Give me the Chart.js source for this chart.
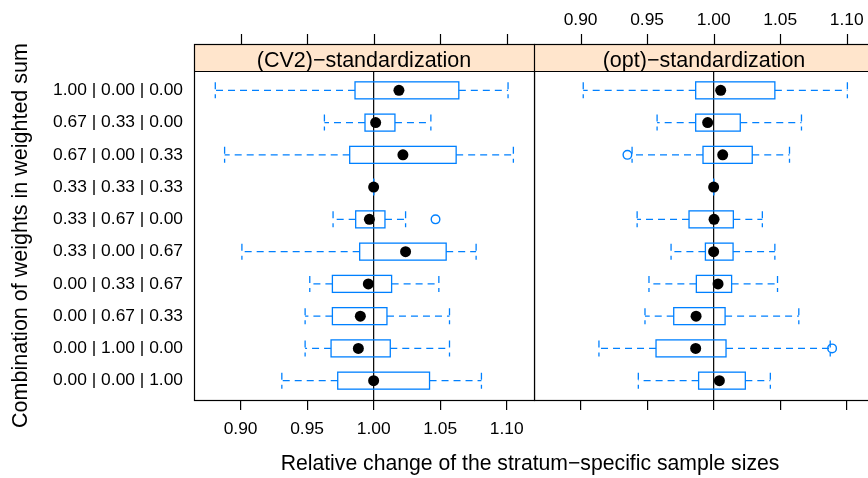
<!DOCTYPE html>
<html>
<head>
<meta charset="utf-8">
<script src="https://cdn.jsdelivr.net/npm/chart.js@4.4.1/dist/chart.umd.min.js"></script>
<style>
  html, body { margin: 0; padding: 0; width: 868px; height: 478px; overflow: hidden; background: #fff; }
  canvas { position: absolute; top: 0; }
  #xtitle {
    position: absolute; left: 530px; top: 452px; transform: translateX(-50%);
    font: 21.2px 'Liberation Sans', Arial, sans-serif; line-height: 1; white-space: nowrap; color: #000;
  }
</style>
</head>
<body>
<canvas id="left" width="536" height="478" style="left:0"></canvas>
<canvas id="right" width="346" height="478" style="left:534px"></canvas>
<div id="xtitle">Relative change of the stratum−specific sample sizes</div>
<script>
const categories = [
  '1.00 | 0.00 | 0.00', '0.67 | 0.33 | 0.00', '0.67 | 0.00 | 0.33', '0.33 | 0.33 | 0.33',
  '0.33 | 0.67 | 0.00', '0.33 | 0.00 | 0.67', '0.00 | 0.33 | 0.67', '0.00 | 0.67 | 0.33',
  '0.00 | 1.00 | 0.00', '0.00 | 0.00 | 1.00'
];
const panelTitles = ['(CV2)−standardization', '(opt)−standardization'];
const xTicks = [0.90, 0.95, 1.00, 1.05, 1.10];
const xMin = 0.865, xMax = 1.1205;

// (CV2) panel: whisker ends, quartiles, median, outliers
const cv2Lo  = [0.881, 0.963, 0.888, 1.000, 0.9695, 0.901, 0.952, 0.9485, 0.9485, 0.931];
const cv2Q1  = [0.986, 0.9935, 0.982, 1.000, 0.9865, 0.9895, 0.969, 0.969, 0.968, 0.973];
const cv2Med = [1.019, 1.0015, 1.022, 1.000, 0.9968, 1.024, 0.996, 0.990, 0.9885, 1.000];
const cv2Q3  = [1.064, 1.016, 1.062, 1.000, 1.0085, 1.0545, 1.0135, 1.010, 1.0125, 1.042];
const cv2Hi  = [1.101, 1.043, 1.105, 1.000, 1.024, 1.077, 1.049, 1.057, 1.057, 1.081];
const cv2OutRow = [5];
const cv2OutVal = [1.0465];

// (opt) panel
const optLo  = [0.902, 0.9575, 0.9387, 1.000, 0.9425, 0.968, 0.9514, 0.9484, 0.9138, 0.9434];
const optQ1  = [0.9865, 0.9865, 0.992, 1.000, 0.9815, 0.9938, 0.987, 0.970, 0.9567, 0.9887];
const optMed = [1.0053, 0.9955, 1.0068, 1.000, 1.0003, 1.000, 1.0033, 0.9868, 0.9865, 1.0043];
const optQ3  = [1.046, 1.020, 1.029, 1.000, 1.0148, 1.0146, 1.0135, 1.0086, 1.0093, 1.0238];
const optHi  = [1.1005, 1.066, 1.057, 1.000, 1.0366, 1.046, 1.048, 1.064, 1.0876, 1.0426];
const optOutRow = [3, 9];
const optOutVal = [0.9352, 1.089];

const BLUE = '#0080ff';
const FONT = "'Liberation Sans', Arial, sans-serif";
Chart.defaults.font.family = FONT;
Chart.defaults.color = '#000';

function bwPlugin(st, title) {
  return {
    id: 'bw',
    beforeDatasetsDraw(chart) {
      const {ctx, chartArea: a, scales: {x, y}} = chart;
      ctx.save();
      ctx.lineWidth = 1.2;
      ctx.strokeStyle = '#000';
      const xr = x.getPixelForValue(1);
      ctx.beginPath(); ctx.moveTo(xr, a.top); ctx.lineTo(xr, a.bottom); ctx.stroke();
      ctx.strokeStyle = BLUE;
      ctx.lineWidth = 1.3;
      st.lo.forEach((lo, i) => {
        const yc = y.getPixelForValue(i + 1);
        const p = [lo, st.q1[i], st.q3[i], st.hi[i]].map(v => x.getPixelForValue(v));
        ctx.setLineDash([7, 5]);
        ctx.beginPath();
        ctx.moveTo(p[1], yc); ctx.lineTo(p[0], yc);
        ctx.moveTo(p[2], yc); ctx.lineTo(p[3], yc);
        ctx.moveTo(p[0], yc - 8); ctx.lineTo(p[0], yc + 8);
        ctx.moveTo(p[3], yc - 8); ctx.lineTo(p[3], yc + 8);
        ctx.stroke();
        ctx.setLineDash([]);
        ctx.strokeRect(p[1], yc - 8.5, p[2] - p[1], 17);
      });
      ctx.restore();
    },
    afterDraw(chart) {
      const {ctx, chartArea: a, scales: {x}} = chart;
      const top = a.top - 27;
      ctx.save();
      ctx.fillStyle = '#ffe5cc';
      ctx.fillRect(a.left, top, a.right - a.left, a.top - top);
      ctx.fillStyle = '#000';
      ctx.font = '21.5px ' + FONT;
      ctx.textAlign = 'center';
      ctx.textBaseline = 'alphabetic';
      ctx.fillText(title, (a.left + a.right) / 2, a.top - 4.5);
      ctx.strokeStyle = '#000';
      ctx.lineWidth = 1.2;
      ctx.strokeRect(a.left + 0.5, top + 0.5, a.right - a.left, a.bottom - top);
      ctx.beginPath();
      ctx.moveTo(a.left, a.top + 0.5); ctx.lineTo(a.right, a.top + 0.5);
      xTicks.forEach(v => {
        const px = Math.round(x.getPixelForValue(v)) + 0.5;
        ctx.moveTo(px, top); ctx.lineTo(px, top - 10);
      });
      ctx.stroke();
      ctx.restore();
    }
  };
}

function makePanel(id, k, st, showLeft) {
  const med = st.med.map((m, i) => ({x: m, y: i + 1}));
  const out = st.outRow.map((r, i) => ({x: st.outVal[i], y: r}));
  const setTicks = s => { s.ticks = xTicks.map(v => ({value: v})); };
  return new Chart(document.getElementById(id), {
    type: 'scatter',
    data: {
      datasets: [
        {data: med, pointRadius: 5.5, backgroundColor: '#000', borderWidth: 0, order: 1},
        {data: out, pointRadius: 4.3, backgroundColor: 'rgba(0,0,0,0)', borderColor: BLUE, borderWidth: 1.4, order: 2}
      ]
    },
    options: {
      responsive: false,
      animation: false,
      events: [],
      layout: {autoPadding: false, padding: {left: 0, top: 0, bottom: 0, right: showLeft ? 2 : 6}},
      plugins: {legend: {display: false}, tooltip: {enabled: false}},
      scales: {
        x: {
          type: 'linear', position: 'bottom', min: xMin, max: xMax,
          afterBuildTicks: setTicks,
          afterFit: s => { s.height = 78; s.paddingLeft = 0; s.paddingRight = 0; },
          border: {display: false},
          grid: {display: true, drawOnChartArea: false, drawTicks: true, tickLength: 10, color: '#000', lineWidth: 1.2},
          ticks: {display: showLeft, padding: 8.6, font: {size: 17.4}, callback: v => v.toFixed(2)}
        },
        x2: {
          type: 'linear', position: 'top', min: xMin, max: xMax,
          afterBuildTicks: setTicks,
          afterFit: s => { s.height = 71; s.paddingLeft = 0; s.paddingRight = 0; },
          border: {display: false},
          grid: {display: false, drawTicks: false},
          ticks: {display: !showLeft, padding: 40.6, font: {size: 17.4}, callback: v => v.toFixed(2)}
        },
        y: {
          type: 'linear', display: showLeft, reverse: true, min: 0.4, max: 10.6,
          afterBuildTicks: s => { s.ticks = categories.map((c, i) => ({value: i + 1})); },
          afterFit: s => { if (showLeft) { s.width = 194; } s.paddingTop = 0; s.paddingBottom = 0; },
          border: {display: false},
          grid: {display: false, drawTicks: false},
          ticks: {padding: 11, font: {size: 17.4}, callback: v => categories[v - 1]},
          title: {display: true, text: 'Combination of weights in weighted sum', font: {size: 21.5}, padding: {top: 8.2, bottom: 0}}
        }
      }
    },
    plugins: [bwPlugin(st, panelTitles[k])]
  });
}

makePanel('left', 0, {lo: cv2Lo, q1: cv2Q1, med: cv2Med, q3: cv2Q3, hi: cv2Hi, outRow: cv2OutRow, outVal: cv2OutVal}, true);
makePanel('right', 1, {lo: optLo, q1: optQ1, med: optMed, q3: optQ3, hi: optHi, outRow: optOutRow, outVal: optOutVal}, false);
</script>
</body>
</html>
